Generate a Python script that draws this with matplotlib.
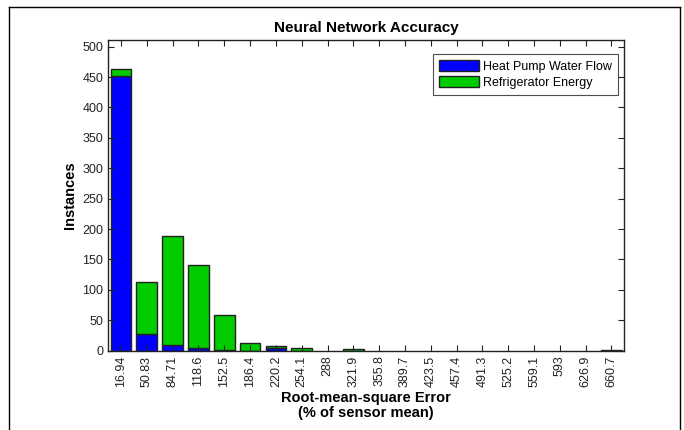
import numpy as np
import matplotlib
matplotlib.use("Agg")
import matplotlib.pyplot as plt
from matplotlib.lines import Line2D

plt.rcParams['font.family'] = ['Liberation Sans', 'DejaVu Sans']

# bin centres of the RMSE histogram (% of sensor mean)
bin_centers = [16.94, 50.83, 84.71, 118.6, 152.5, 186.4, 220.2, 254.1, 288, 321.9,
               355.8, 389.7, 423.5, 457.4, 491.3, 525.2, 559.1, 593, 626.9, 660.7]
tick_labels = ["16.94", "50.83", "84.71", "118.6", "152.5", "186.4", "220.2", "254.1",
               "288", "321.9", "355.8", "389.7", "423.5", "457.4", "491.3", "525.2",
               "559.1", "593", "626.9", "660.7"]

# instance counts per bin (stacked)
heat_pump = [452, 27, 10, 4, 1, 0, 4, 0, 0, 0, 0, 0, 0, 0, 0, 0, 0, 0, 0, 0]
refrigerator = [12, 86, 178, 137, 57, 12, 3, 4, 0, 3, 0, 0, 0, 0, 0, 0, 0, 0, 0, 1]

bin_w = bin_centers[1] - bin_centers[0]
x = np.array(bin_centers)
hp = np.array(heat_pump, dtype=float)
rf = np.array(refrigerator, dtype=float)
total = hp + rf

fig = plt.figure(figsize=(6.84, 4.30), dpi=100)
ax = fig.add_axes([0.158, 0.1844, 0.755, 0.7226])

# empty bins are not drawn at all (no flat outline)
show = total > 0
ax.bar(x[show], hp[show], width=0.8 * bin_w, color='#0000ff',
       edgecolor='#222222', linewidth=1.0, label='Heat Pump Water Flow')
ax.bar(x[show], rf[show], width=0.8 * bin_w, bottom=hp[show], color='#00cc00',
       edgecolor='#222222', linewidth=1.0, label='Refrigerator Energy')

ax.set_xlim(0, 20 * bin_w)
ax.set_ylim(0, 511)
ax.set_xticks(bin_centers)
ax.set_xticklabels(tick_labels, rotation=90, fontsize=9)
ax.set_yticks(np.arange(0, 501, 50))
ax.tick_params(axis='y', labelsize=9)
ax.tick_params(direction='in', top=True, right=True, length=4, width=0.8,
               colors='#222222', labelcolor='#222222')
for s in ax.spines.values():
    s.set_color('#222222')
    s.set_linewidth(1.0)

ax.set_title('Neural Network Accuracy', fontsize=11, fontweight='bold', pad=6)
ax.set_ylabel('Instances', fontsize=10.5, fontweight='bold', labelpad=4)
ax.set_xlabel('Root-mean-square Error\n(% of sensor mean)', fontsize=10.5,
              fontweight='bold', labelpad=3, linespacing=1.05)

leg = ax.legend(loc='upper right', bbox_to_anchor=(0.988, 0.955), borderaxespad=0,
                fontsize=9, frameon=True, fancybox=False, handlelength=3.2,
                handleheight=1.0, handletextpad=0.3, labelspacing=0.25,
                borderpad=0.5)
leg.get_frame().set_edgecolor('#222222')
leg.get_frame().set_linewidth(0.8)

# outer frame around the figure area
x0, x1, y1 = 9 / 684, 680 / 684, 1 - 7 / 430
fig.add_artist(Line2D([x0, x0], [0, y1], transform=fig.transFigure, color='black', lw=1))
fig.add_artist(Line2D([x0, x1], [y1, y1], transform=fig.transFigure, color='black', lw=1))
fig.add_artist(Line2D([x1, x1], [0, y1], transform=fig.transFigure, color='black', lw=1))

fig.savefig('out.png', dpi=100)
